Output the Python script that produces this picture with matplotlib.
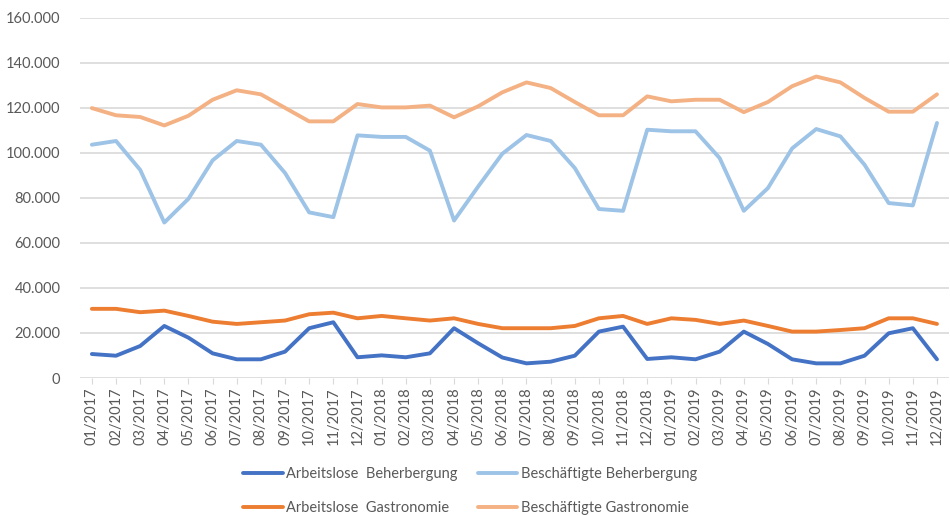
import matplotlib.pyplot as plt
import numpy as np
from matplotlib.ticker import FuncFormatter

plt.rcParams['font.family'] = ['Lato', 'DejaVu Sans']

# months 01/2017 .. 12/2019
months = ['%02d/%d' % (m, y) for y in (2017, 2018, 2019) for m in range(1, 13)]

arbeitslose_beherbergung = [
    10650, 9900, 14200, 23100, 17900, 10950, 8300, 8300, 11700, 22100, 24750, 9200,
    10050, 9200, 10950, 22100, 15400, 9100, 6500, 7250, 9900, 20600, 22800, 8450,
    9200, 8300, 11700, 20600, 15100, 8300, 6500, 6500, 9900, 19850, 22100, 8300]
beschaeftigte_beherbergung = [
    103550, 105200, 92400, 69000, 79550, 96600, 105200, 103550, 91000, 73500, 71400, 107700,
    107000, 107000, 100900, 69900, 85000, 99550, 107850, 105200, 93200, 75000, 74200, 110200,
    109500, 109500, 97600, 74200, 84300, 101900, 110500, 107250, 94650, 77650, 76600, 113200]
arbeitslose_gastronomie = [
    30700, 30700, 29200, 29900, 27550, 25000, 24000, 24750, 25500, 28300, 29000, 26500,
    27550, 26500, 25500, 26500, 24000, 22100, 22100, 22100, 23100, 26500, 27550, 24000,
    26500, 25800, 24000, 25500, 23100, 20600, 20600, 21300, 22100, 26500, 26500, 24000]
beschaeftigte_gastronomie = [
    119800, 116600, 115850, 112100, 116400, 123500, 127700, 125900, 119900, 113900, 113900, 121600,
    120100, 120100, 120900, 115700, 120600, 126800, 131200, 128700, 122500, 116600, 116600, 125000,
    122800, 123500, 123500, 118000, 122500, 129500, 133800, 131200, 124300, 118200, 118200, 125900]

fig = plt.figure(figsize=(9.5, 5.15), dpi=100)
ax = fig.add_axes([0.084, 0.266, 0.915, 0.700])

x = np.arange(len(months))
l1, = ax.plot(x, arbeitslose_beherbergung, color='#4472C4', lw=2.8, solid_capstyle='round',
              label='Arbeitslose  Beherbergung')
l2, = ax.plot(x, beschaeftigte_beherbergung, color='#9DC3E6', lw=2.8, solid_capstyle='round',
              label='Beschäftigte Beherbergung')
l3, = ax.plot(x, arbeitslose_gastronomie, color='#ED7D31', lw=2.8, solid_capstyle='round',
              label='Arbeitslose  Gastronomie')
l4, = ax.plot(x, beschaeftigte_gastronomie, color='#F4B183', lw=2.8, solid_capstyle='round',
              label='Beschäftigte Gastronomie')

ax.set_xlim(-0.5, len(months) - 0.5)
ax.set_ylim(0, 160000)
ax.set_yticks(np.arange(0, 160001, 20000))
ax.yaxis.set_major_formatter(FuncFormatter(lambda v, p: '{:,.0f}'.format(v).replace(',', '.')))
ax.set_xticks(x)
ax.set_xticklabels(months, rotation=90)
ax.grid(axis='y', color='#D9D9D9', lw=1.2)
ax.set_axisbelow(True)
for s in ax.spines.values():
    s.set_visible(False)
ax.tick_params(axis='y', length=0, labelsize=10.5, labelcolor='#595959', pad=14)
ax.tick_params(axis='x', length=4, color='#D9D9D9', labelsize=10.5, labelcolor='#595959', pad=3)

fig.legend([l1, l3, l2, l4], [l1.get_label(), l3.get_label(), l2.get_label(), l4.get_label()],
           ncol=2, loc='center', bbox_to_anchor=(0.495, 0.046), frameon=False,
           fontsize=10.5, labelcolor='#595959', handlelength=2.7, handletextpad=0.25,
           columnspacing=1.4, labelspacing=1.35)

fig.savefig('out.png', dpi=100)
